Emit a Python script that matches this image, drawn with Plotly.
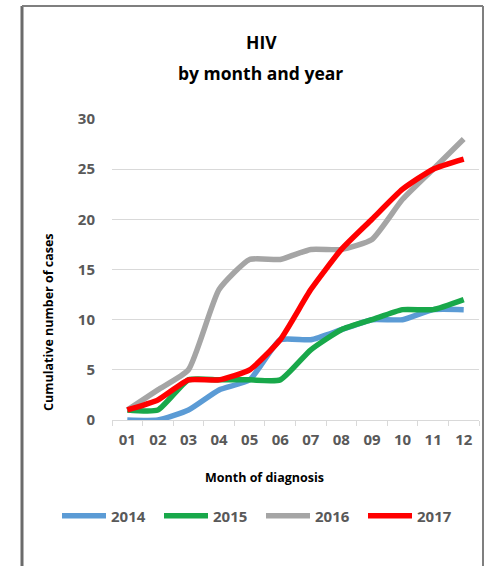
import plotly.graph_objects as go

months = ["01", "02", "03", "04", "05", "06", "07", "08", "09", "10", "11", "12"]
years = ["2014", "2015", "2016", "2017"]
cases_2014 = [0, 0, 1, 3, 4, 8, 8, 9, 10, 10, 11, 11]
cases_2015 = [1, 1, 4, 4, 4, 4, 7, 9, 10, 11, 11, 12]
cases_2016 = [1, 3, 5, 13, 16, 16, 17, 17, 18, 22, 25, 28]
cases_2017 = [1, 2, 4, 4, 5, 8, 13, 17, 20, 23, 25, 26]
colors = ["#5B9BD5", "#18A84A", "#A5A5A5", "#FF0000"]

W, H = 491, 566
L, R, T, B = 112, 12, 119, 146
pw, ph = W - L - R, H - T - B

def px(x):
    return (x - L) / pw

def py(y):
    return (H - y - B) / ph

FONT = "Open Sans"
fig = go.Figure()
for name, vals, col in zip(years, [cases_2014, cases_2015, cases_2016, cases_2017], colors):
    fig.add_trace(go.Scatter(x=months, y=vals, name=name, mode="lines",
                             line=dict(color=col, width=5.5, shape="spline", smoothing=0.5)))

fig.update_layout(
    width=W, height=H,
    margin=dict(l=L, r=R, t=T, b=B),
    paper_bgcolor="white", plot_bgcolor="white",
    font=dict(family=FONT, color="#595959"),
    showlegend=True,
    legend=dict(orientation="h", x=px(57), xanchor="left", y=py(516), yanchor="middle",
                font=dict(family=FONT, size=15, color="#595959", weight="bold"),
                itemwidth=44, entrywidth=43, tracegroupgap=0, bgcolor="rgba(0,0,0,0)"),
    xaxis=dict(type="category", range=[-0.5, 11.5], tickson="boundaries", ticks="outside", ticklen=5,
               tickcolor="#d9d9d9", showgrid=False, showline=True, linecolor="#d9d9d9",
               linewidth=1, zeroline=False, ticklabelstandoff=6,
               tickfont=dict(family=FONT, size=15, color="#595959", weight="bold")),
    yaxis=dict(range=[0, 30], tickvals=[0, 5, 10, 15, 20, 25, 30], showgrid=True,
               gridcolor="#d9d9d9", gridwidth=1, zeroline=False, showline=False, ticks="",
               ticklabelstandoff=16,
               tickfont=dict(family=FONT, size=15, color="#595959", weight="bold")),
)

ann = [
    dict(text="HIV", x=px(261), y=py(42), size=17.5),
    dict(text="by month and year", x=px(260), y=py(73), size=17.5),
    dict(text="Month of diagnosis", x=px(264), y=py(477), size=12.5),
]
for a in ann:
    fig.add_annotation(text=a["text"], x=a["x"], y=a["y"], xref="paper", yref="paper",
                       xanchor="center", yanchor="middle", showarrow=False,
                       font=dict(family=FONT, size=a["size"], color="#000000", weight="bold"))
fig.add_annotation(text="Cumulative number of cases", x=px(48), y=py(322), xref="paper", yref="paper",
                   xanchor="center", yanchor="middle", showarrow=False, textangle=-90,
                   font=dict(family=FONT, size=12.5, color="#000000", weight="bold"))

# chart frame
frame = dict(color="#7F7F7F", width=2)
fig.add_shape(type="line", xref="paper", yref="paper", x0=px(22), x1=px(22), y0=py(6), y1=py(575), line=dict(color="#6b6b6b", width=3))
fig.add_shape(type="line", xref="paper", yref="paper", x0=px(22), x1=px(483), y0=py(6), y1=py(6), line=frame)
fig.add_shape(type="line", xref="paper", yref="paper", x0=px(483), x1=px(483), y0=py(6), y1=py(575), line=frame)

fig.write_html("out.html")
